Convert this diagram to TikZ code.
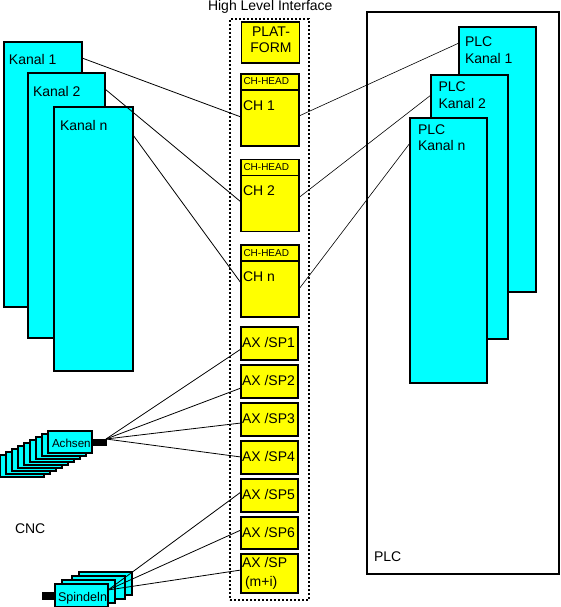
\documentclass[tikz,border=0pt]{standalone}
\usepackage{fontspec}
\setmainfont{Liberation Sans}
\definecolor{cy}{RGB}{0,255,255}
\definecolor{ye}{RGB}{255,255,0}
\begin{document}
\begin{tikzpicture}[x=1pt,y=-1pt,
  box/.style={draw,rectangle,anchor=north west,inner sep=0pt,outer sep=0pt},
  cyanbox/.style={box,fill=cy,line width=1.1pt},
  ybox/.style={box,fill=ye,line width=1.6pt,minimum width=57pt},
  plug/.style={box,fill=black,draw=black},
  txt/.style={anchor=base west,inner sep=0pt,outer sep=0pt},
  ctxt/.style={anchor=base,inner sep=0pt,outer sep=0pt},
  f14/.style={font=\fontsize{14}{17}\selectfont},
  f13/.style={font=\fontsize{14}{16}\selectfont},
  f12/.style={font=\fontsize{12.6}{14}\selectfont},
  f11/.style={font=\fontsize{11.6}{14}\selectfont},
  f10/.style={font=\fontsize{10}{12}\selectfont},
  conn/.style={line width=0.8pt},
  thinconn/.style={line width=0.6pt}]
\useasboundingbox (0,0) rectangle (560,607);

% title
\node[txt,f14] (title) at (208,10.5) {High Level Interface};

% CNC channels
\node[cyanbox,minimum width=78pt,minimum height=265pt] (k1) at (4,42) {};
\node[cyanbox,minimum width=77pt,minimum height=265pt] (k2) at (28,73) {};
\node[cyanbox,minimum width=79pt,minimum height=264pt,line width=1.4pt] (kn) at (54,107) {};
\node[txt,f13] (tk1) at (9,65) {Kanal 1};
\node[txt,f13] (tk2) at (33,97) {Kanal 2};
\node[txt,f13] (tkn) at (60,130) {Kanal n};

% PLC
\node[box,line width=1.1pt,minimum width=192pt,minimum height=562pt] (pout) at (367,12) {};
\node[cyanbox,minimum width=77pt,minimum height=265pt] (p1) at (459,27) {};
\node[cyanbox,minimum width=77pt,minimum height=264pt,line width=1.4pt] (p2) at (431,75) {};
\node[cyanbox,minimum width=77pt,minimum height=265pt,line width=1.4pt] (pn) at (410,118) {};
\node[txt,f13] (tp1a) at (465,47) {PLC};
\node[txt,f13] (tp1b) at (465,64) {Kanal 1};
\node[txt,f13] (tp2a) at (438.5,92) {PLC};
\node[txt,f13] (tp2b) at (438.5,109) {Kanal 2};
\node[txt,f13] (tpna) at (418,134) {PLC};
\node[txt,f13] (tpnb) at (418,150) {Kanal n};
\node[txt,f13] (tplc) at (374,561) {PLC};

% High level interface column
\node[box,line width=1.6pt,dash pattern=on 2pt off 2pt,minimum width=79pt,minimum height=581pt] (hli) at (230,19) {};
\node[ybox,minimum width=58pt,minimum height=41pt] (plat) at (241.5,22) {};
\node[ctxt,f14] (tplat1) at (271,37) {PLAT-};
\node[ctxt,f14] (tplat2) at (271,53) {FORM};

\node[ybox,minimum width=58pt,minimum height=72pt] (ch1) at (241,74) {};
\node[ybox,minimum width=58pt,minimum height=16pt] (chh1) at (241,74) {};
\node[ybox,minimum width=58pt,minimum height=72pt] (ch2) at (241,159.5) {};
\node[ybox,minimum width=58pt,minimum height=16pt] (chh2) at (241,159.5) {};
\node[ybox,minimum width=58pt,minimum height=72pt] (chn) at (241,245) {};
\node[ybox,minimum width=58pt,minimum height=16pt] (chhn) at (241,245) {};
\node[txt,f10] (tch1h) at (243.5,85) {CH-HEAD};
\node[txt,f14] (tch1) at (243,110.5) {CH 1};
\node[txt,f10] (tch2h) at (243.5,170.7) {CH-HEAD};
\node[txt,f14] (tch2) at (243,195.7) {CH 2};
\node[txt,f10] (tchnh) at (243.5,256.7) {CH-HEAD};
\node[txt,f14] (tchn) at (243,281.7) {CH n};

\node[ybox,minimum height=33pt] (ax1) at (241,327) {};
\node[ybox,minimum height=33pt] (ax2) at (241,365) {};
\node[ybox,minimum height=33pt] (ax3) at (241,403) {};
\node[ybox,minimum height=33pt] (ax4) at (241,441) {};
\node[ybox,minimum height=33pt] (ax5) at (241,479) {};
\node[ybox,minimum height=32pt] (ax6) at (241,517) {};
\node[ybox,minimum height=39pt] (ax7) at (241,554) {};
\node[txt,f14] (tax1) at (242,347.3) {AX /SP1};
\node[txt,f14] (tax2) at (242,385.3) {AX /SP2};
\node[txt,f14] (tax3) at (242,423.3) {AX /SP3};
\node[txt,f14] (tax4) at (242,461.3) {AX /SP4};
\node[txt,f14] (tax5) at (242,499.3) {AX /SP5};
\node[txt,f14] (tax6) at (242,537) {AX /SP6};
\node[txt,f14] (tax7a) at (242,567.3) {AX /SP};
\node[txt,f14] (tax7b) at (245,586.7) {(m+i)};

% Achsen stack
\foreach \i in {8,7,...,0} {
  \node[cyanbox,minimum width=44pt,minimum height=22pt] (a\i) at (48-6*\i,431+3*\i) {};
}
\node[plug,minimum width=14pt,minimum height=6pt] (ach) at (92,439) {};
\node[txt,f11] (tach) at (52,447.7) {Achsen};

% Spindeln stack
\node[cyanbox,minimum width=53pt,minimum height=23pt] (s4) at (79,572) {};
\node[cyanbox,minimum width=53pt,minimum height=23pt] (s3) at (72,576) {};
\node[cyanbox,minimum width=53pt,minimum height=23pt] (s2) at (62,580) {};
\node[cyanbox,minimum width=53pt,minimum height=23pt] (s1) at (55,584) {};
\node[plug,minimum width=13pt,minimum height=7pt] (sp) at (42,592) {};
\node[txt,f12] (tsp) at (58,601.7) {Spindeln};

\node[txt,f13] (tcnc) at (15,533) {CNC};

% connectors
\draw[conn] ([yshift=-16pt]k1.north east) -- ([yshift=-43pt]ch1.north west);
\draw[conn] ([yshift=-16pt]k2.north east) -- ([yshift=-42.5pt]ch2.north west);
\draw[conn] ([yshift=-28pt]kn.north east) -- ([yshift=-38pt]chn.north west);
\draw[thinconn] ([yshift=-42pt]ch1.north east) -- ([yshift=-16pt]p1.north west);
\draw[thinconn] ([yshift=-38pt]ch2.north east) -- ([yshift=-20pt]p2.north west);
\draw[thinconn] ([yshift=-44pt]chn.north east) -- ([yshift=-25pt]pn.north west);
\foreach \t/\d in {ax1/22,ax2/23,ax3/20,ax4/16}
  \draw[conn] (ach.north east) -- ([yshift=-\d pt]\t.north west);
\foreach \t/\d in {ax5/13,ax6/13,ax7/16}
  \draw[conn] ([yshift=-6pt]s1.north east) -- ([yshift=-\d pt]\t.north west);
\end{tikzpicture}
\end{document}
